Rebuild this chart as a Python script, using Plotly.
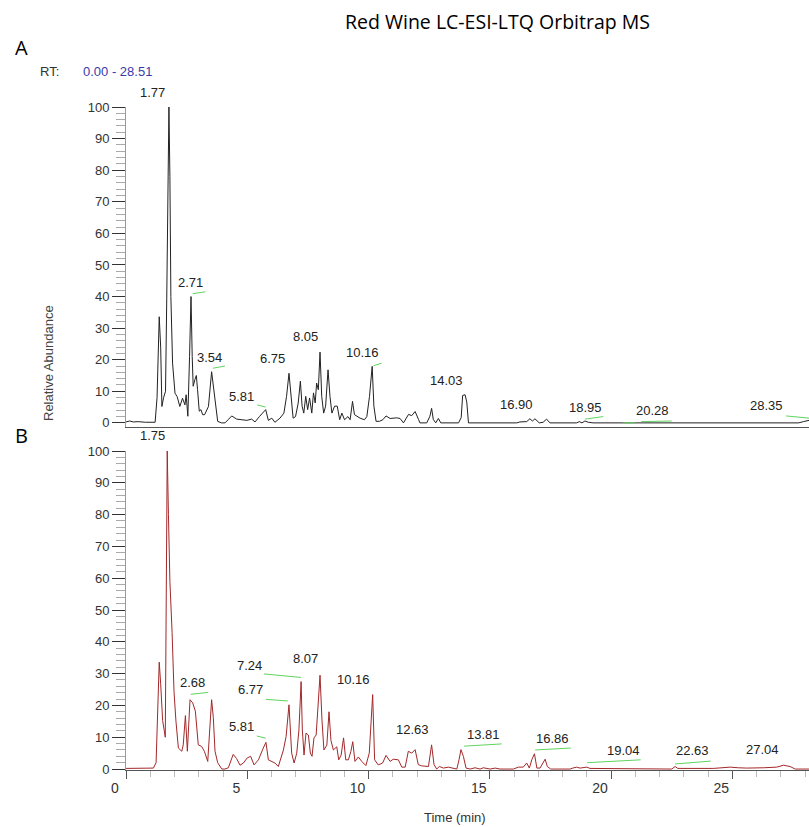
import plotly.graph_objects as go

# ---------------- data (retention time in min, relative abundance %) ----------------
top_rt = [0.0, 0.15, 0.3, 0.5, 0.8, 1.0, 1.2, 1.28, 1.33, 1.37, 1.43, 1.48, 1.55, 1.63, 1.68, 1.72, 1.77,
          1.81, 1.85, 1.92, 2.02, 2.11, 2.22, 2.33, 2.43, 2.48, 2.55, 2.62, 2.68, 2.73, 2.77, 2.84, 2.90,
          2.95, 3.02, 3.09, 3.16, 3.24, 3.31, 3.40, 3.53, 3.62, 3.70, 3.78, 3.93, 4.08, 4.21, 4.36, 4.56,
          4.77, 4.98, 5.18, 5.32, 5.50, 5.67, 5.76, 5.87, 6.01, 6.14, 6.35, 6.51, 6.62, 6.72, 6.80, 6.89,
          6.99, 7.10, 7.19, 7.26, 7.33, 7.41, 7.49, 7.57, 7.66, 7.73, 7.80, 7.86, 7.93, 8.00, 8.07, 8.15,
          8.23, 8.33, 8.41, 8.49, 8.60, 8.71, 8.81, 8.90, 9.01, 9.15, 9.24, 9.34, 9.42, 9.52, 9.65, 9.83,
          9.93, 10.04, 10.15, 10.22, 10.31, 10.45, 10.59, 10.72, 10.89, 11.16, 11.30, 11.44, 11.65, 11.78,
          11.92, 12.06, 12.12, 12.40, 12.53, 12.60, 12.67, 12.77, 12.88, 12.98, 13.71, 13.82, 13.88, 13.98,
          14.05, 14.12, 16.11, 16.24, 16.52, 16.65, 16.76, 16.86, 17.04, 17.20, 17.34, 17.48, 18.58, 18.69,
          18.80, 18.92, 19.06, 19.26, 27.73, 27.93, 28.16]
top_ab = [0.3, 0.6, 0.3, 0.4, 0.2, 0.3, 0.2, 8, 24, 33.6, 24, 5.2, 8, 10, 39.5, 63, 100,
          78, 40, 18.9, 9.4, 8.3, 5.2, 7.8, 5.7, 8.9, 2.1, 21, 40, 21, 11.6, 13.7, 15,
          10.5, 3.7, 4.2, 2.6, 2.6, 3.7, 5.2, 16.2, 10.5, 4.2, 0.5, 0, 0, 1, 2.2, 1.2,
          1.0, 0.8, 1.2, 0.3, 2, 3.3, 4.2, 0.8, 1.5, 0.2, 1.5, 3.1, 8.4, 15.7, 8.4, 1.5,
          2, 6.3, 13.2, 5.3, 3.1, 8.4, 4.2, 7.9, 3.1, 9.5, 6.3, 12.6, 10.5, 22.4, 8.4, 3.1,
          5.3, 16.8, 8.4, 3.1, 5.3, 5.3, 1.0, 3.1, 1.0, 2, 1, 6.8, 2.6, 2, 1.5, 1,
          2, 8.4, 17.9, 5.3, 0.5, 0.5, 1, 2.2, 1.4, 1.6, 1.4, 0, 2.7, 2.3,
          3.6, 1.1, 0, 0, 2.1, 4.6, 1.1, 0, 1.4, 0, 0, 1.7, 8.7, 8.9,
          6.6, 0, 0, 0.3, 0.4, 1.3, 0.6, 1.3, 0, 0.2, 1.2, 0, 0, 0.4,
          0, 0.6, 0.2, 0, 0, 0.4, 0.8]

bot_rt = [0.0, 0.5, 1.0, 1.13, 1.24, 1.33, 1.37, 1.43, 1.51, 1.62, 1.66, 1.70, 1.75, 1.81, 1.90, 1.98,
          2.06, 2.16, 2.30, 2.36, 2.45, 2.49, 2.53, 2.64, 2.75, 2.86, 2.98, 3.12, 3.23, 3.37, 3.46, 3.53,
          3.60, 3.67, 3.78, 3.95, 4.08, 4.22, 4.42, 4.56, 4.70, 4.84, 5.00, 5.14, 5.28, 5.46, 5.66, 5.77,
          5.87, 6.01, 6.14, 6.28, 6.49, 6.60, 6.72, 6.83, 6.93, 7.04, 7.13, 7.22, 7.27, 7.34, 7.42, 7.52,
          7.60, 7.67, 7.75, 7.84, 7.89, 8.00, 8.08, 8.16, 8.28, 8.37, 8.45, 8.55, 8.69, 8.77, 8.87, 8.97,
          9.06, 9.17, 9.27, 9.35, 9.44, 9.58, 9.72, 9.89, 10.03, 10.17, 10.25, 10.40, 10.58, 10.72, 10.89,
          11.02, 11.23, 11.37, 11.51, 11.64, 11.78, 11.92, 12.05, 12.19, 12.47, 12.60, 12.70, 12.81, 12.92,
          13.09, 13.29, 13.64, 13.73, 13.81, 13.91, 14.02, 14.19, 14.39, 14.60, 14.73, 15.01, 15.22, 15.42,
          15.97, 16.18, 16.38, 16.52, 16.63, 16.73, 16.84, 16.94, 17.07, 17.28, 17.37, 17.51, 18.31, 18.42,
          18.58, 18.72, 19.00, 19.13, 20.10, 20.58, 20.92, 21.75, 21.88, 22.50, 22.64, 22.75, 24.22, 24.91,
          25.25, 25.59, 26.28, 26.83, 27.11, 27.38, 27.59, 28.16]
bot_ab = [0.2, 0.2, 0.2, 0.3, 2, 22.7, 33.6, 26.8, 15.3, 10, 70.8, 100, 80, 59, 43, 24.3,
          15, 6.6, 5.6, 7.6, 16.8, 11.8, 5.6, 21.8, 20.8, 18.2, 7.6, 7.1, 5.6, 2.4, 15, 21.8,
          16.2, 5.6, 2, 0, 0, 0.4, 4.6, 3.3, 1.2, 1.9, 3.5, 4, 1.3, 2.9, 6.6, 8.4,
          2.9, 2.4, 1.9, 0.8, 6.0, 10.2, 20.2, 5, 1.9, 5, 12.3, 27.5, 12.3, 4.4, 11.3, 10.7,
          5, 4, 9.8, 10.7, 16, 29.5, 15.4, 6, 7.5, 18, 9, 6, 7, 2.9, 4.4, 9.8,
          2.9, 2.9, 5.5, 8.6, 2.4, 3.8, 2.4, 1.1, 5, 23.4, 2.9, 1.3, 1.9, 4.3, 2.4,
          3.1, 2.9, 0.6, 0.6, 5.6, 5, 6.1, 1.4, 1, 0.8, 7.6, 1.4, 0, 0.8,
          0.3, 0.6, 0, 2.9, 6.1, 4, 0.3, 0, 0.4, 0, 0.4, 0, 0.3, 0,
          0, 0.6, 0.6, 1.9, 0.3, 2.9, 4.8, 0.3, 0.3, 3.1, 0.8, 0, 0, 0.3,
          0.6, 0.3, 0.6, 0.2, 0.2, 0, 0.2, 0, 0.2, 0, 0.8, 0.2, 0.2, 0.6,
          0.4, 0.3, 0.4, 0.6, 1.2, 0.8, 0, 0]

# peak labels: text, anchor rt, anchor abundance (values above 100 sit just over the top)
top_labels = ["1.77", "2.71", "3.54", "5.81", "6.75", "8.05", "10.16", "14.03", "16.90", "18.95", "20.28", "28.35"]
top_lab_x = [1.11, 2.67, 3.44, 4.77, 6.05, 7.41, 9.77, 13.22, 16.11, 18.93, 21.72, 26.42]
top_lab_y = [104.7, 44.5, 20.8, 8.5, 20.5, 27.3, 22.4, 13.4, 5.7, 4.8, 3.9, 5.4]

bot_labels = ["1.75", "2.68", "5.81", "6.77", "7.24", "8.07", "10.16", "12.63", "13.81", "16.86", "19.04", "22.63", "27.04"]
bot_lab_x = [1.08, 2.75, 4.77, 5.14, 5.11, 7.38, 9.37, 11.81, 14.73, 17.58, 20.51, 23.37, 26.24]
bot_lab_y = [105.0, 27.1, 13.3, 25.1, 32.7, 34.8, 28.0, 12.5, 10.9, 9.5, 5.8, 5.7, 6.0]

# green label leader segments (rt0, ab0, rt1, ab1)
top_leaders = [(2.75, 40.9, 3.27, 41.5), (3.58, 17.3, 4.08, 18.0), (5.41, 5.7, 5.76, 5.0),
               (10.20, 18.1, 10.54, 18.9), (18.93, 1.2, 19.68, 2.0), (20.48, 0.0, 20.99, 0.0),
               (21.24, 0.4, 22.50, 0.6), (27.22, 2.2, 28.16, 1.5)]
bot_leaders = [(2.67, 23.5, 3.39, 24.1), (5.39, 10.4, 5.76, 9.7), (5.77, 21.9, 6.67, 21.4),
               (5.69, 29.9, 7.22, 28.8), (13.94, 7.2, 15.49, 7.9), (16.87, 6.0, 18.34, 6.6),
               (19.02, 2.0, 21.22, 2.9), (22.64, 1.6, 24.11, 2.5)]

x_ticks = [0, 5, 10, 15, 20, 25]
y_ticks = [0, 10, 20, 30, 40, 50, 60, 70, 80, 90, 100]

# ---------------- figure ----------------
W, H = 809, 827
SANS = "Liberation Sans, Arial, sans-serif"
YMAX_TOP, YMAX_BOT = 100, 100
PX_PER_UNIT_TOP = 320 / 101.3
PX_PER_UNIT_BOT = 319 / 100.3


def seg_xy(segs):
    xs, ys = [], []
    for a, b, c, d in segs:
        xs += [a, c, None]
        ys += [b, d, None]
    return xs, ys


fig = go.Figure()
fig.add_trace(go.Scatter(x=top_rt, y=top_ab, mode="lines", line=dict(color="#222222", width=1),
                         xaxis="x", yaxis="y", hoverinfo="skip", showlegend=False))
fig.add_trace(go.Scatter(x=bot_rt, y=bot_ab, mode="lines", line=dict(color="#a3282a", width=1),
                         xaxis="x2", yaxis="y2", hoverinfo="skip", showlegend=False))
gx, gy = seg_xy(top_leaders)
fig.add_trace(go.Scatter(x=gx, y=gy, mode="lines", line=dict(color="#5fd35f", width=1),
                         xaxis="x", yaxis="y", hoverinfo="skip", showlegend=False))
gx, gy = seg_xy(bot_leaders)
fig.add_trace(go.Scatter(x=gx, y=gy, mode="lines", line=dict(color="#5fd35f", width=1),
                         xaxis="x2", yaxis="y2", hoverinfo="skip", showlegend=False))

xdom = [126 / W, 1.0]
top_dom = [1 - 427 / H, 1 - 107 / H]
bot_dom = [1 - 770 / H, 1 - 451 / H]
XR = [0, 28.16]

yax_common = dict(
    tickmode="array", tickvals=y_ticks, ticks="outside", ticklen=13, tickcolor="#333333", tickwidth=1,
    minor=dict(dtick=2, tick0=0, ticks="outside", ticklen=9, tickcolor="#aaaaaa", tickwidth=1),
    showline=True, linecolor="#999999", linewidth=1, showgrid=False, zeroline=False,
    tickfont=dict(family=SANS, size=13, color="#333333"), fixedrange=True, automargin=False,
)

annotations = []


def data_label(t, x, y, xr, yr, ymax, ppu):
    yy, shift = (y, 0) if y <= ymax else (ymax, (y - ymax) * ppu)
    annotations.append(dict(text=t, x=x, y=yy, yshift=shift, xref=xr, yref=yr, showarrow=False,
                            xanchor="center", yanchor="middle",
                            font=dict(family=SANS, size=13, color="#222222")))


for t, x, y in zip(top_labels, top_lab_x, top_lab_y):
    data_label(t, x, y, "x", "y", YMAX_TOP, PX_PER_UNIT_TOP)
for t, x, y in zip(bot_labels, bot_lab_x, bot_lab_y):
    data_label(t, x, y, "x2", "y2", YMAX_BOT, PX_PER_UNIT_BOT)


def pa(text, px, py, size, color="#000000", family=SANS, angle=0, xanchor="center"):
    annotations.append(dict(text=text, x=px / W, y=1 - py / H, xref="paper", yref="paper",
                            showarrow=False, xanchor=xanchor, yanchor="middle", textangle=angle,
                            font=dict(family=family, size=size, color=color)))


pa("Red Wine LC-ESI-LTQ Orbitrap MS", 497, 22, 19.5, "#000000", "Open Sans, Noto Sans, sans-serif")
pa("A", 21, 48, 20, "#000000", "Open Sans, Noto Sans, sans-serif")
pa("B", 21, 435, 20, "#000000", "Open Sans, Noto Sans, sans-serif")
pa("RT:", 49, 71, 13, "#333333", SANS)
pa("0.00 - 28.51", 117, 71, 13, "#3a3aad", SANS)
pa("Relative Abundance", 48, 363, 13, "#444444", SANS, angle=-90)
pa("Time (min)", 455, 817, 13, "#333333", SANS)

fig.update_layout(
    template="none",
    width=W, height=H, margin=dict(l=0, r=0, t=0, b=0, pad=0, autoexpand=False),
    paper_bgcolor="white", plot_bgcolor="white", showlegend=False,
    xaxis=dict(domain=xdom, range=XR, anchor="y", showline=True, linecolor="#555555", linewidth=1,
               ticks="", showticklabels=False, showgrid=False, zeroline=False, fixedrange=True,
               automargin=False),
    yaxis=dict(domain=top_dom, range=[-1.3, YMAX_TOP], anchor="x", **yax_common),
    xaxis2=dict(domain=xdom, range=XR, anchor="y2", showline=True, linecolor="#555555", linewidth=1,
                tickmode="array", tickvals=x_ticks, ticks="outside", ticklen=8, tickcolor="#555555",
                minor=dict(dtick=1, tick0=0, ticks="outside", ticklen=6, tickcolor="#bbbbbb"),
                ticklabelshift=-11, ticklabelstandoff=-3,
                tickfont=dict(family=SANS, size=14, color="#333333"),
                showgrid=False, zeroline=False, fixedrange=True, automargin=False),
    yaxis2=dict(domain=bot_dom, range=[-0.3, YMAX_BOT], anchor="x2", **yax_common),
    annotations=annotations,
)

fig.write_html(
    "out.html",
    config={"displayModeBar": False},
    post_script="document.body.style.margin='0px';document.body.style.overflow='hidden';",
)
